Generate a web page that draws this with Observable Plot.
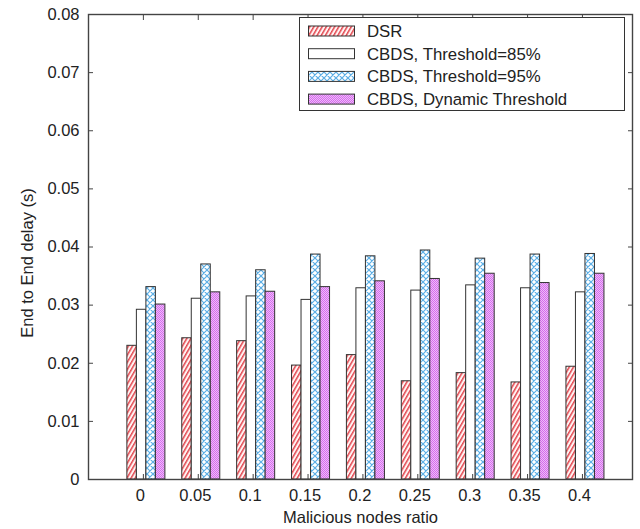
<!DOCTYPE html>
<html>
<head>
<meta charset="utf-8">
<script src="https://cdn.jsdelivr.net/npm/d3@7"></script>
<script src="https://cdn.jsdelivr.net/npm/@observablehq/plot@0.6"></script>
<style>
  body { margin: 0; background: #fff; }
  #chart { width: 640px; height: 529px; }
  #chart svg { font-family: "Liberation Sans", Arial, sans-serif; }
</style>
</head>
<body>
<div id="chart"></div>
<script>
// ---- data ----
const ratios = [0, 0.05, 0.1, 0.15, 0.2, 0.25, 0.3, 0.35, 0.4];
const seriesNames = ["DSR", "CBDS, Threshold=85%", "CBDS, Threshold=95%", "CBDS, Dynamic Threshold"];
const dsr  = [0.0230, 0.0243, 0.0238, 0.0196, 0.0214, 0.0169, 0.0183, 0.0167, 0.0194];
const th85 = [0.0292, 0.0311, 0.0315, 0.0309, 0.0329, 0.0325, 0.0334, 0.0329, 0.0322];
const th95 = [0.0331, 0.0370, 0.0360, 0.0387, 0.0384, 0.0394, 0.0380, 0.0387, 0.0388];
const dyn  = [0.0301, 0.0322, 0.0323, 0.0331, 0.0341, 0.0345, 0.0354, 0.0338, 0.0354];
const yTicks = [0, 0.01, 0.02, 0.03, 0.04, 0.05, 0.06, 0.07, 0.08];
const xTicks = ratios;
const xLabel = "Malicious nodes ratio";
const yLabel = "End to End delay (s)";

const allSeries = [dsr, th85, th95, dyn];
const barW = 0.00866; // bar width in data units of x

const barMarks = allSeries.map((vals, k) =>
  Plot.rectY(ratios.map((r, i) => ({ratio: r, value: vals[i]})), {
    x1: d => d.ratio + (k - 2) * barW,
    x2: d => d.ratio + (k - 1) * barW,
    y1: 0,
    y2: "value",
    fill: `url(#pat${k})`,
    stroke: "#333",
    strokeWidth: 1,
    dx: 3
  })
);

const chart = Plot.plot({
  width: 640,
  height: 529,
  marginTop: 14,
  marginBottom: 50,
  marginLeft: 88,
  marginRight: 8,
  style: {fontFamily: "'Liberation Sans', Arial, sans-serif", fontSize: "16.5px", color: "#222", background: "#fff"},
  x: {domain: [-0.05, 0.4456], axis: null},
  y: {domain: [0, 0.08], axis: null},
  marks: [
    ...barMarks,
    // y axis labels + inward ticks
    Plot.axisY({ticks: yTicks, anchor: "left", tickSize: 0, tickPadding: 9, tickFormat: d => String(d), label: null, fontSize: 16.5}),
    Plot.axisY({ticks: yTicks, anchor: "left", tickSize: -5, tickFormat: () => "", label: null, stroke: "#444"}),
    Plot.axisY({ticks: yTicks, anchor: "right", tickSize: -5, tickFormat: () => "", label: null, stroke: "#444"}),
    // x axis labels + inward ticks
    Plot.axisX({ticks: xTicks, anchor: "bottom", tickSize: 0, tickPadding: 10, tickFormat: d => String(d), label: null, fontSize: 16.5, dx: -3}),
    Plot.axisX({ticks: xTicks, anchor: "bottom", tickSize: -5, tickFormat: () => "", label: null, stroke: "#444"}),
    Plot.axisX({ticks: xTicks, anchor: "top", tickSize: -5, tickFormat: () => "", label: null, stroke: "#444"}),
    Plot.frame({stroke: "#444", strokeWidth: 1.4}),
    Plot.text([yLabel], {frameAnchor: "left", textAnchor: "middle", rotate: -90, dx: -61, dy: 16, fontSize: 16.5, fill: "#222"}),
    Plot.text([xLabel], {frameAnchor: "bottom", textAnchor: "middle", dy: 43, fontSize: 16.5, fill: "#222"})
  ]
});

document.getElementById("chart").appendChild(chart);

// ---- patterns ----
const svg = d3.select(chart.tagName.toLowerCase() === "svg" ? chart : chart.querySelector("svg"));
const defs = svg.insert("defs", ":first-child");

// DSR: red diagonal stripes
const p0 = defs.append("pattern").attr("id", "pat0").attr("patternUnits", "userSpaceOnUse")
  .attr("width", 3.6).attr("height", 10).attr("patternTransform", "rotate(30)");
p0.append("rect").attr("width", 3.6).attr("height", 10).attr("fill", "#fff3f3");
p0.append("rect").attr("x", 0).attr("width", 1.5).attr("height", 10).attr("fill", "#e2474f");

// 85%: white
const p1 = defs.append("pattern").attr("id", "pat1").attr("patternUnits", "userSpaceOnUse")
  .attr("width", 4).attr("height", 4);
p1.append("rect").attr("width", 4).attr("height", 4).attr("fill", "#fff");

// 95%: blue cross-hatch
const p2 = defs.append("pattern").attr("id", "pat2").attr("patternUnits", "userSpaceOnUse")
  .attr("width", 6).attr("height", 6);
p2.append("rect").attr("width", 6).attr("height", 6).attr("fill", "#fff");
p2.append("path").attr("d", "M0,0L6,6M6,0L0,6M-1,5L1,7M5,-1L7,1M-1,1L1,-1M5,7L7,5")
  .attr("stroke", "#5aaee6").attr("stroke-width", 1.2).attr("fill", "none");

// Dynamic: magenta dotted
const p3 = defs.append("pattern").attr("id", "pat3").attr("patternUnits", "userSpaceOnUse")
  .attr("width", 2).attr("height", 2);
p3.append("rect").attr("width", 2).attr("height", 2).attr("fill", "#d46cee");
p3.append("rect").attr("width", 1).attr("height", 1).attr("fill", "#f0bcf8");
p3.append("rect").attr("x", 1).attr("y", 1).attr("width", 1).attr("height", 1).attr("fill", "#f0bcf8");

// ---- legend (inside plot area, top right) ----
const lg = svg.append("g").attr("class", "legend").attr("text-anchor", "start");
lg.append("rect").attr("x", 299.5).attr("y", 17.5).attr("width", 325).attr("height", 93)
  .attr("fill", "#fff").attr("stroke", "#333").attr("stroke-width", 1);
seriesNames.forEach((name, k) => {
  const cy = 31 + k * 22.7;
  lg.append("rect").attr("x", 308.5).attr("y", cy - 5).attr("width", 46).attr("height", 10)
    .attr("fill", `url(#pat${k})`).attr("stroke", "#333").attr("stroke-width", 1);
  lg.append("text").attr("x", 367).attr("y", cy).attr("dy", "0.35em")
    .attr("text-anchor", "start")
    .attr("font-size", 16.8).attr("fill", "#222").text(name);
});
</script>
</body>
</html>
